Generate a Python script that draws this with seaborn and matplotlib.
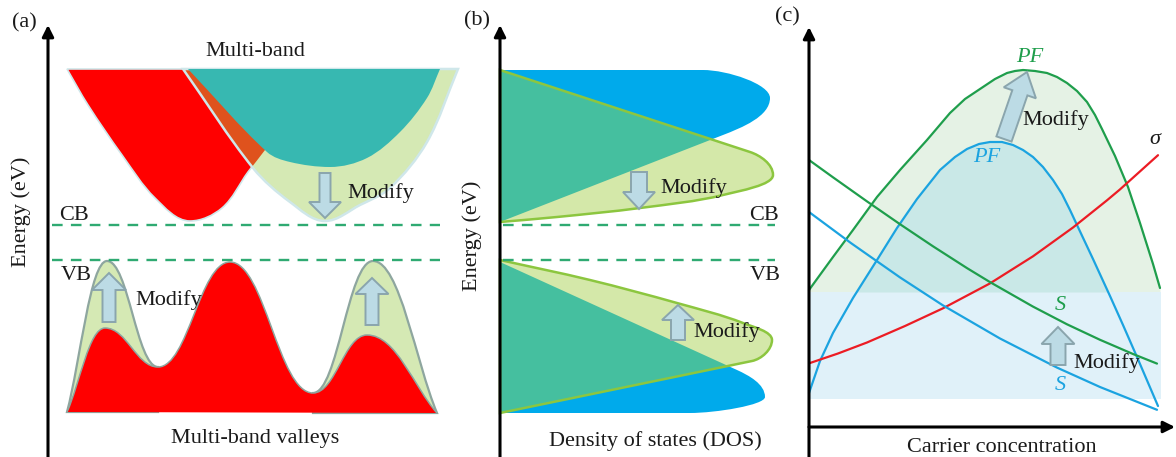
import numpy as np
import matplotlib
matplotlib.use("Agg")
import matplotlib.pyplot as plt
from matplotlib.path import Path
from matplotlib.patches import PathPatch, FancyArrow
import seaborn as sns

sns.set_theme(style="white")
plt.rcParams["font.family"] = ["Liberation Serif", "DejaVu Serif"]

# ---------------- panel (a): band structure (k, E) ----------------
cb_red_k = [19, 40, 74, 107, 142, 174, 200, 217, 245, 272]
cb_red_e = [388, 352, 302, 259, 236, 249, 285, 307, 347, 388]
cb_red_kind = "cssshssssc"

cb_mod_k = [135, 205, 242, 277, 312, 342, 379, 410]
cb_mod_e = [388, 289, 255, 236, 252, 269, 315, 388]
cb_mod_kind = "csshsssc"

cb_multi_k = [140, 219, 242, 282, 319, 352, 379, 392]
cb_multi_e = [388, 305, 295, 290, 299, 325, 359, 388]
cb_multi_kind = "csshsssc"

vb_red_k = [19, 57, 110, 182, 265, 319, 389]
vb_red_e = [45, 129, 90, 195, 64, 122, 44]
vb_red_kind = "chhhhhc"

vb_mod1_k = [19, 59, 110]
vb_mod1_e = [45, 196, 90]
vb_mod2_k = [265, 325, 389]
vb_mod2_e = [64, 196, 44]

# ---------------- panel (b): density of states (DOS, E) ----------------
cb_dos_blue_x = [0, 203, 270, 223, 0]
cb_dos_blue_e = [387, 387, 359, 322, 235]
cb_dos_blue_kind = "chvnc"

cb_dos_mod_x = [0, 57, 140, 223, 273, 250, 0]
cb_dos_mod_e = [235, 240, 249, 262, 282, 305, 387]
cb_dos_mod_kind = "csssvnc"

vb_dos_blue_x = [0, 190, 265, 237, 0]
vb_dos_blue_e = [44, 44, 60, 87, 195]
vb_dos_blue_kind = "chvnc"

vb_dos_mod_x = [0, 90, 177, 243, 272, 252, 0]
vb_dos_mod_e = [197, 177, 154, 134, 117, 96, 44]
vb_dos_mod_kind = "ssssvnc"

# ---------------- panel (c): transport vs carrier concentration ----------------
pf_mod_n = [0, 24, 44, 68, 91, 118, 141, 156, 174, 186, 198, 206, 214, 226, 238,
            248, 258, 268, 278, 286, 293, 306, 319, 331, 344, 351]
pf_mod_v = [137, 170, 197, 230, 257, 287, 314, 328, 340, 348, 354, 356, 357, 356, 354,
            350, 344, 336, 325, 312, 298, 271, 240, 204, 163, 139]

pf_n = [0, 11, 24, 44, 68, 88, 108, 131, 146, 158, 170, 181, 193, 204, 214, 224,
        234, 244, 253, 261, 268, 284, 301, 314, 328, 349]
pf_v = [34, 66, 94, 129, 167, 199, 228, 257, 270, 278, 283, 285, 285, 282, 277, 270,
        260, 247, 233, 217, 202, 168, 131, 102, 70, 21]

sigma_n = [1, 29, 58, 96, 134, 181, 224, 264, 298, 311, 349]
sigma_v = [64, 73.5, 84.5, 101, 118.7, 143.6, 170.7, 199.5, 226.7, 237.6, 271.8]

s_mod_n = [0, 24, 58, 91, 124, 158, 181, 224, 258, 291, 324, 348]
s_mod_v = [267, 249.7, 225.6, 202.8, 180.7, 158.9, 144.9, 120.4, 102.7, 87.2, 73.0, 63.4]

s_n = [0, 42, 91, 134, 191, 248, 291, 348]
s_v = [215, 183.9, 149.6, 121.6, 88.5, 59.4, 40.0, 17.2]

band_top, band_bottom, band_right = 135, 28, 352

# ---------------- colours ----------------
RED = "#ff0000"
ORANGE = "#df521d"
TEAL_A = "#37b8b1"
LGREEN = "#d5e9b4"
PALE_EDGE = "#cfe7ea"
VB_EDGE = "#8ea69f"
BLUE_B = "#00aaeb"
TEAL_B = "#45bf9f"
LGREEN_B = "#d4e8a9"
GREEN_EDGE_B = "#8cc63f"
DASH = "#2faa72"
ARROW_FC = "#bcdbe5"
ARROW_EC = "#8aa5ad"
C_GREEN = "#1f9e4c"
C_BLUE = "#1ba3e0"
C_RED = "#ec1c24"
FILL_GREEN = "#e5f2e5"
FILL_TEAL = "#c9e8e7"
FILL_BLUE = "#e0f1f9"
TXT = "#1a1a1a"
FS = 16


def smooth_path(xs, ys, kinds, tail=(), closed=True):
    """Cubic-Bezier outline through anchor points.
    kinds: c = corner, s = smooth, h/v = horizontal/vertical tangent,
    n = tangent pointing at the next anchor."""
    pts = np.column_stack([xs, ys]).astype(float)
    n = len(pts)

    def tangent(j, seg):
        k = kinds[j]
        if k == "h":
            return np.array([np.sign(seg[0]) or 1.0, 0.0])
        if k == "v":
            return np.array([0.0, np.sign(seg[1]) or 1.0])
        if k == "n" and j < n - 1:
            v = pts[j + 1] - pts[j]
        elif k == "s" and 0 < j < n - 1:
            v = pts[j + 1] - pts[j - 1]
        else:
            v = seg
        return v / np.hypot(*v)

    def handle(j, seg, L):
        k = kinds[j]
        if k == "h":
            return min(L / 3, 0.42 * abs(seg[0]))
        if k == "v":
            return min(L / 3, 0.5 * abs(seg[1]))
        return L / 3

    verts = [pts[0]]
    codes = [Path.MOVETO]
    for i in range(n - 1):
        p0, p1 = pts[i], pts[i + 1]
        seg = p1 - p0
        L = np.hypot(*seg)
        c0 = p0 + tangent(i, seg) * handle(i, seg, L)
        c1 = p1 - tangent(i + 1, seg) * handle(i + 1, seg, L)
        verts += [c0, c1, p1]
        codes += [Path.CURVE4] * 3
    for p in tail:
        verts.append(np.asarray(p, float))
        codes.append(Path.LINETO)
    if closed:
        verts.append(pts[0])
        codes.append(Path.CLOSEPOLY)
    return Path(np.array(verts), codes)


def block_arrow(ax, x, y, dx, dy, shaft, head, head_len):
    ax.add_patch(FancyArrow(x, y, dx, dy, width=shaft, head_width=head,
                            head_length=head_len, length_includes_head=True,
                            fc=ARROW_FC, ec=ARROW_EC, lw=1.4, zorder=8))


def axis_arrow(ax, start, end):
    ax.annotate("", xy=end, xytext=start,
                arrowprops=dict(arrowstyle="-|>", lw=2.2, color="black",
                                mutation_scale=17, shrinkA=0, shrinkB=0),
                zorder=10, annotation_clip=False)


W, H = 1176, 457
fig = plt.figure(figsize=(W / 100, H / 100), dpi=100)
fig.patch.set_facecolor("white")

ax_a = fig.add_axes([0 / W, 0, 460 / W, 1])
ax_b = fig.add_axes([455 / W, 0, 345 / W, 1])
ax_c = fig.add_axes([765 / W, 0, 411 / W, 1])
ax_a.set(xlim=(-48, 412), ylim=(0, 457))
ax_b.set(xlim=(-45, 300), ylim=(0, 457))
ax_c.set(xlim=(-44, 367), ylim=(-30, 427))
for ax in (ax_a, ax_b, ax_c):
    ax.set_axis_off()
    ax.patch.set_alpha(0)

# ================= (a) =================
red_cb = PathPatch(smooth_path(cb_red_k, cb_red_e, cb_red_kind),
                   fc=RED, ec=PALE_EDGE, lw=1.2, zorder=2)
ax_a.add_patch(red_cb)
mod_path = smooth_path(cb_mod_k, cb_mod_e, cb_mod_kind)
ax_a.add_patch(PathPatch(mod_path, fc=LGREEN, ec="none", zorder=3))
overlap = PathPatch(mod_path, fc=ORANGE, ec="none", zorder=3.5)
ax_a.add_patch(overlap)
overlap.set_clip_path(red_cb)
ax_a.add_patch(PathPatch(mod_path, fc="none", ec=PALE_EDGE, lw=1.8, zorder=4))
ax_a.add_patch(PathPatch(smooth_path(cb_multi_k, cb_multi_e, cb_multi_kind),
                         fc=TEAL_A, ec="none", zorder=5))

ax_a.add_patch(PathPatch(smooth_path(vb_mod1_k, vb_mod1_e, "chh",
                                     tail=[(vb_mod1_k[-1], vb_red_e[0])]),
                         fc=LGREEN, ec=VB_EDGE, lw=1.6, zorder=2))
ax_a.add_patch(PathPatch(smooth_path(vb_mod2_k, vb_mod2_e, "hhc",
                                     tail=[(vb_mod2_k[0], vb_mod2_e[-1])]),
                         fc=LGREEN, ec=VB_EDGE, lw=1.6, zorder=2))
ax_a.add_patch(PathPatch(smooth_path(vb_red_k, vb_red_e, vb_red_kind),
                         fc=RED, ec="none", zorder=3))
ax_a.add_patch(PathPatch(smooth_path(vb_red_k, vb_red_e, vb_red_kind, closed=False),
                         fc="none", ec=VB_EDGE, lw=1.1, zorder=3.2))

for lvl in (232, 197):
    ax_a.plot([4, 392], [lvl, lvl], ls=(0, (4.5, 3.5)), lw=1.7, color=DASH, zorder=7)

block_arrow(ax_a, 277, 284, 0, -45, 11, 32, 16)
block_arrow(ax_a, 61, 135, 0, 49, 13, 34, 17)
block_arrow(ax_a, 324, 132, 0, 47, 13, 33, 16)

axis_arrow(ax_a, (0, -5), (0, 432))
ax_a.text(-24, 434, "(a)", fontsize=FS, color=TXT, ha="center", va="center")
ax_a.text(-27, 245, "Energy (eV)", fontsize=FS, color=TXT, rotation=90,
          ha="center", va="center")
ax_a.text(207, 405, "Multi-band", fontsize=FS, color=TXT, ha="center", va="center")
ax_a.text(207, 19, "Multi-band valleys", fontsize=FS, color=TXT, ha="center", va="center")
ax_a.text(26, 241, "CB", fontsize=FS, color=TXT, ha="center", va="center", zorder=9)
ax_a.text(28, 181, "VB", fontsize=FS, color=TXT, ha="center", va="center", zorder=9)
ax_a.text(299, 264, "Modify", fontsize=FS, color=TXT, ha="left", va="center", zorder=9)
ax_a.text(87, 157, "Modify", fontsize=FS, color=TXT, ha="left", va="center", zorder=9)

# ================= (b) =================
for bx, be, bk, gx, ge, gk in (
        (cb_dos_blue_x, cb_dos_blue_e, cb_dos_blue_kind, cb_dos_mod_x, cb_dos_mod_e, cb_dos_mod_kind),
        (vb_dos_blue_x, vb_dos_blue_e, vb_dos_blue_kind, vb_dos_mod_x, vb_dos_mod_e, vb_dos_mod_kind)):
    blue = PathPatch(smooth_path(bx, be, bk), fc=BLUE_B, ec="none", zorder=2)
    ax_b.add_patch(blue)
    gpath = smooth_path(gx, ge, gk)
    ax_b.add_patch(PathPatch(gpath, fc=LGREEN_B, ec="none", zorder=3))
    shared = PathPatch(gpath, fc=TEAL_B, ec="none", zorder=4)
    ax_b.add_patch(shared)
    shared.set_clip_path(blue)
    ax_b.add_patch(PathPatch(gpath, fc="none", ec=GREEN_EDGE_B, lw=1.8, zorder=5))

for lvl in (232, 197):
    ax_b.plot([3, 275], [lvl, lvl], ls=(0, (4.5, 3.5)), lw=1.7, color=DASH, zorder=7)

block_arrow(ax_b, 139, 285, 0, -37, 16, 32, 17)
block_arrow(ax_b, 178, 117, 0, 35, 14, 32, 15)

axis_arrow(ax_b, (0, -5), (0, 432))
ax_b.text(-23, 436, "(b)", fontsize=FS, color=TXT, ha="center", va="center")
ax_b.text(-28, 221, "Energy (eV)", fontsize=FS, color=TXT, rotation=90,
          ha="center", va="center")
ax_b.text(155, 16, "Density of states (DOS)", fontsize=FS, color=TXT,
          ha="center", va="center")
ax_b.text(264, 242, "CB", fontsize=FS, color=TXT, ha="center", va="center", zorder=9)
ax_b.text(265, 182, "VB", fontsize=FS, color=TXT, ha="center", va="center", zorder=9)
ax_b.text(160, 269, "Modify", fontsize=FS, color=TXT, ha="left", va="center", zorder=9)
ax_b.text(193, 125, "Modify", fontsize=FS, color=TXT, ha="left", va="center", zorder=9)

# ================= (c) =================
pf_mod_arr = np.array(pf_mod_v, float)
pf_arr = np.array(pf_v, float)
ax_c.fill_between(pf_mod_n, pf_mod_arr, band_top, where=pf_mod_arr >= band_top,
                  interpolate=True, color=FILL_GREEN, lw=0, zorder=1)
ax_c.fill_between([0, band_right], band_bottom, band_top, color=FILL_BLUE, lw=0, zorder=1)
ax_c.fill_between(pf_n, pf_arr, band_top, where=pf_arr >= band_top,
                  interpolate=True, color=FILL_TEAL, lw=0, zorder=1.5)

for xs, ys, col in ((pf_mod_n, pf_mod_v, C_GREEN), (pf_n, pf_v, C_BLUE),
                    (sigma_n, sigma_v, C_RED), (s_mod_n, s_mod_v, C_GREEN),
                    (s_n, s_v, C_BLUE)):
    sns.lineplot(x=xs, y=ys, ax=ax_c, color=col, lw=1.6, zorder=4,
                 sort=False, estimator=None, legend=False)

block_arrow(ax_c, 195, 288, 23, 67, 16, 34, 22)
block_arrow(ax_c, 249, 62, 0, 38, 15, 33, 17)

axis_arrow(ax_c, (0, -31), (0, 400))
axis_arrow(ax_c, (0, 0), (366, 0))
ax_c.text(-22, 410, "(c)", fontsize=FS, color=TXT, ha="center", va="center")
ax_c.text(193, -20, "Carrier concentration", fontsize=FS, color=TXT,
          ha="center", va="center")
ax_c.text(221, 370, "PF", fontsize=FS, color=C_GREEN, style="italic",
          ha="center", va="center", zorder=9)
ax_c.text(178, 269, "PF", fontsize=FS, color=C_BLUE, style="italic",
          ha="center", va="center", zorder=9)
ax_c.text(346, 287, "σ", fontsize=FS, color=TXT, style="italic",
          ha="center", va="center", zorder=9)
ax_c.text(251, 121, "S", fontsize=FS, color=C_GREEN, style="italic",
          ha="center", va="center", zorder=9)
ax_c.text(251, 42, "S", fontsize=FS, color=C_BLUE, style="italic",
          ha="center", va="center", zorder=9)
ax_c.text(213, 307, "Modify", fontsize=FS, color=TXT, ha="left", va="center", zorder=9)
ax_c.text(264, 64, "Modify", fontsize=FS, color=TXT, ha="left", va="center", zorder=9)

fig.savefig("out.png", dpi=100, facecolor="white")
